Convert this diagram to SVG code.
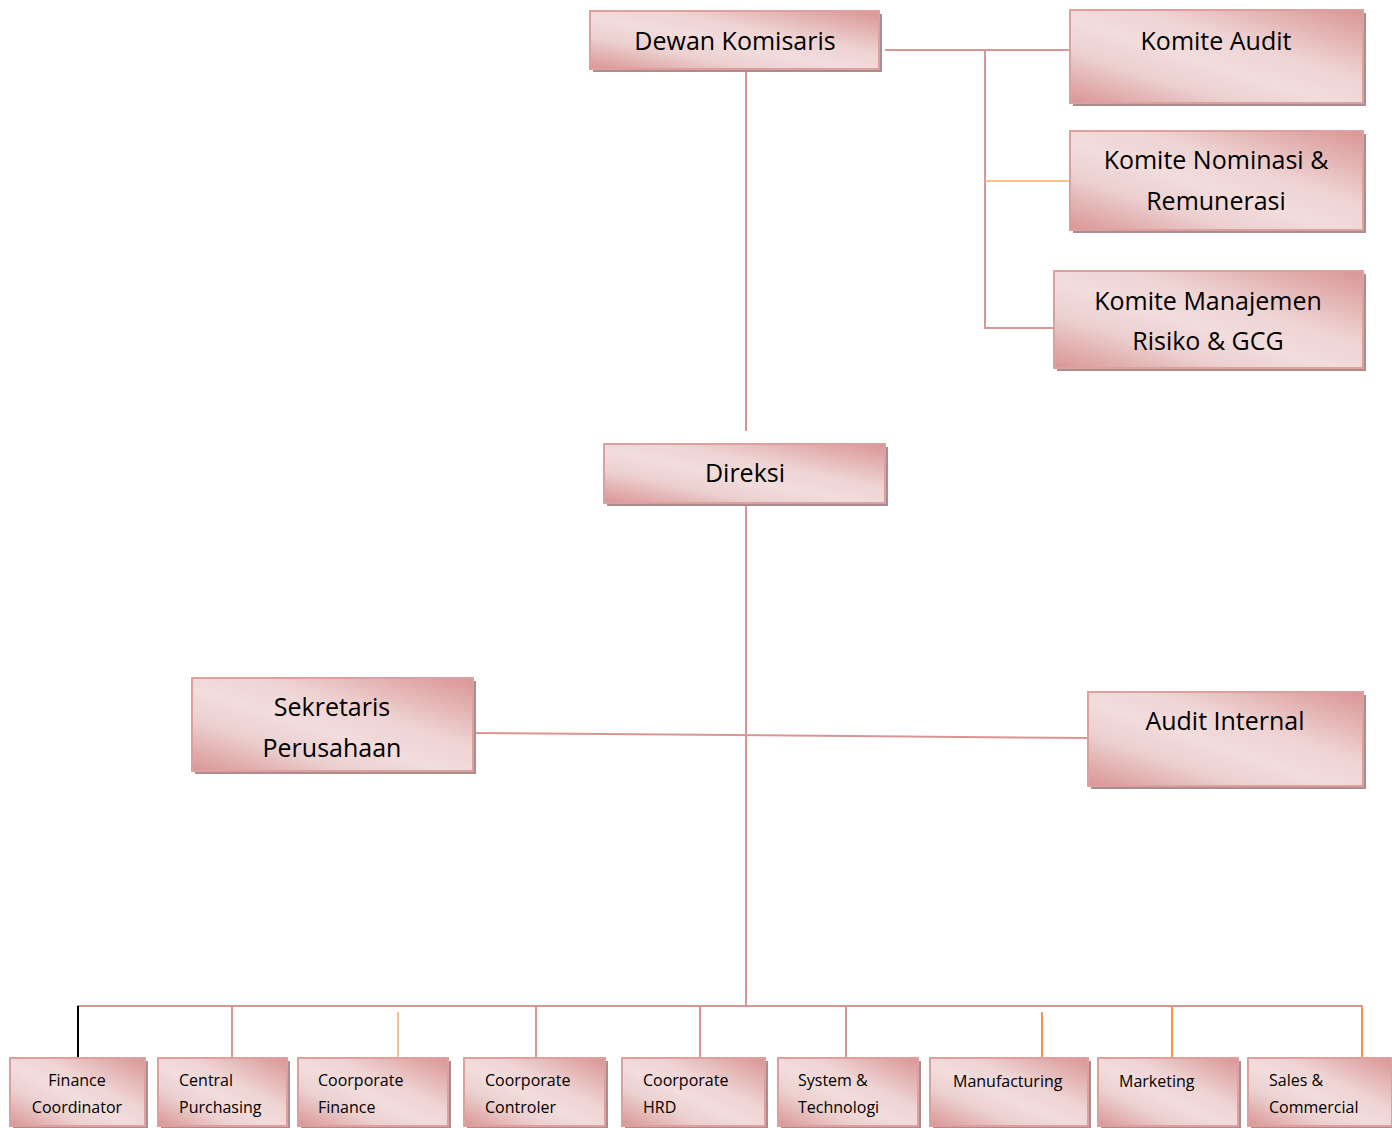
<svg xmlns="http://www.w3.org/2000/svg" width="1392" height="1128" viewBox="0 0 1392 1128">
<defs>
<linearGradient id="g" x1="1" y1="0" x2="0" y2="1">
<stop offset="0" stop-color="#d99594"/>
<stop offset="0.38" stop-color="#efd4d4"/>
<stop offset="0.55" stop-color="#f2dcdc"/>
<stop offset="0.72" stop-color="#ecd0d0"/>
<stop offset="1" stop-color="#d99594"/>
</linearGradient>
</defs>
<style>
.sh{fill:#ad8c8e}
.bx{fill:url(#g);stroke:#de9f9f;stroke-width:2}
.c{stroke:#d99594;stroke-width:2;fill:none}
.o1{stroke:#fac08f;stroke-width:2;fill:none}
.o2{stroke:#f79646;stroke-width:2;fill:none}
.k{stroke:#000;stroke-width:2;fill:none}
.t{font-family:"Open Sans","Liberation Sans",sans-serif;font-size:25px;fill:#000;text-anchor:middle}
.s{font-family:"Open Sans","Liberation Sans",sans-serif;font-size:16px;fill:#000}
</style>
<rect width="1392" height="1128" fill="#fff"/>
<g id="connectors">
<line class="c" x1="746" y1="70" x2="746" y2="431"/>
<polyline class="c" points="885,50 1070,50"/>
<line class="c" x1="985" y1="50" x2="985" y2="329"/>
<line class="o1" x1="985" y1="181" x2="1070" y2="181"/>
<line class="c" x1="984" y1="328" x2="1054" y2="328"/>
<line class="c" x1="746" y1="504" x2="746" y2="1006"/>
<line class="c" x1="474" y1="733" x2="1088" y2="738"/>
<line class="c" x1="77" y1="1006" x2="1363" y2="1006"/>
<line class="k" x1="78" y1="1006" x2="78" y2="1058"/>
<line class="c" x1="232" y1="1006" x2="232" y2="1058"/>
<line class="o1" x1="398" y1="1012" x2="398" y2="1063"/>
<line class="c" x1="536" y1="1006" x2="536" y2="1058"/>
<line class="c" x1="700" y1="1006" x2="700" y2="1058"/>
<line class="c" x1="846" y1="1006" x2="846" y2="1058"/>
<line class="o2" x1="1042" y1="1012" x2="1042" y2="1064"/>
<line class="o2" x1="1172" y1="1006" x2="1172" y2="1058"/>
<line class="o2" x1="1362" y1="1006" x2="1362" y2="1058"/>
</g>
<g id="dewan"><rect class="sh" x="593" y="14" width="289" height="58"/><rect class="bx" x="590" y="11" width="289" height="58"/><text class="t" x="735" y="50">Dewan Komisaris</text></g>
<g id="komite-audit"><rect class="sh" x="1073" y="13" width="293" height="93"/><rect class="bx" x="1070" y="10" width="293" height="93"/><text class="t" x="1216" y="50">Komite Audit</text></g>
<g id="komite-nominasi"><rect class="sh" x="1073" y="134" width="293" height="99"/><rect class="bx" x="1070" y="131" width="293" height="99"/><text class="t" x="1216" y="169">Komite Nominasi &amp;</text><text class="t" x="1216" y="210">Remunerasi</text></g>
<g id="komite-manajemen"><rect class="sh" x="1057" y="274" width="309" height="97"/><rect class="bx" x="1054" y="271" width="309" height="97"/><text class="t" x="1208" y="310">Komite Manajemen</text><text class="t" x="1208" y="350">Risiko &amp; GCG</text></g>
<g id="direksi"><rect class="sh" x="607" y="447" width="281" height="59"/><rect class="bx" x="604" y="444" width="281" height="59"/><text class="t" x="745" y="482">Direksi</text></g>
<g id="sekretaris"><rect class="sh" x="195" y="681" width="281" height="93"/><rect class="bx" x="192" y="678" width="281" height="93"/><text class="t" x="332" y="716">Sekretaris</text><text class="t" x="332" y="757">Perusahaan</text></g>
<g id="audit-internal"><rect class="sh" x="1091" y="695" width="275" height="94"/><rect class="bx" x="1088" y="692" width="275" height="94"/><text class="t" x="1225" y="730">Audit Internal</text></g>
<g id="finance-coordinator"><rect class="sh" x="13" y="1061" width="135" height="68"/><rect class="bx" x="10" y="1058" width="135" height="68"/><text class="s" x="77" y="1086" text-anchor="middle">Finance</text><text class="s" x="77" y="1113" text-anchor="middle">Coordinator</text></g>
<g id="central-purchasing"><rect class="sh" x="161" y="1061" width="129" height="68"/><rect class="bx" x="158" y="1058" width="129" height="68"/><text class="s" x="179" y="1086">Central</text><text class="s" x="179" y="1113">Purchasing</text></g>
<g id="coorporate-finance"><rect class="sh" x="301" y="1061" width="150" height="68"/><rect class="bx" x="298" y="1058" width="150" height="68"/><text class="s" x="318" y="1086">Coorporate</text><text class="s" x="318" y="1113">Finance</text></g>
<g id="coorporate-controler"><rect class="sh" x="467" y="1061" width="141" height="68"/><rect class="bx" x="464" y="1058" width="141" height="68"/><text class="s" x="485" y="1086">Coorporate</text><text class="s" x="485" y="1113">Controler</text></g>
<g id="coorporate-hrd"><rect class="sh" x="625" y="1061" width="143" height="68"/><rect class="bx" x="622" y="1058" width="143" height="68"/><text class="s" x="643" y="1086">Coorporate</text><text class="s" x="643" y="1113">HRD</text></g>
<g id="system-technologi"><rect class="sh" x="781" y="1061" width="140" height="68"/><rect class="bx" x="778" y="1058" width="140" height="68"/><text class="s" x="798" y="1086">System &amp;</text><text class="s" x="798" y="1113">Technologi</text></g>
<g id="manufacturing"><rect class="sh" x="933" y="1061" width="158" height="68"/><rect class="bx" x="930" y="1058" width="158" height="68"/><text class="s" x="953" y="1087">Manufacturing</text></g>
<g id="marketing"><rect class="sh" x="1101" y="1061" width="140" height="68"/><rect class="bx" x="1098" y="1058" width="140" height="68"/><text class="s" x="1119" y="1087">Marketing</text></g>
<g id="sales-commercial"><rect class="sh" x="1251" y="1061" width="144" height="68"/><rect class="bx" x="1248" y="1058" width="144" height="68"/><text class="s" x="1269" y="1086">Sales &amp;</text><text class="s" x="1269" y="1113">Commercial</text></g>
</svg>
